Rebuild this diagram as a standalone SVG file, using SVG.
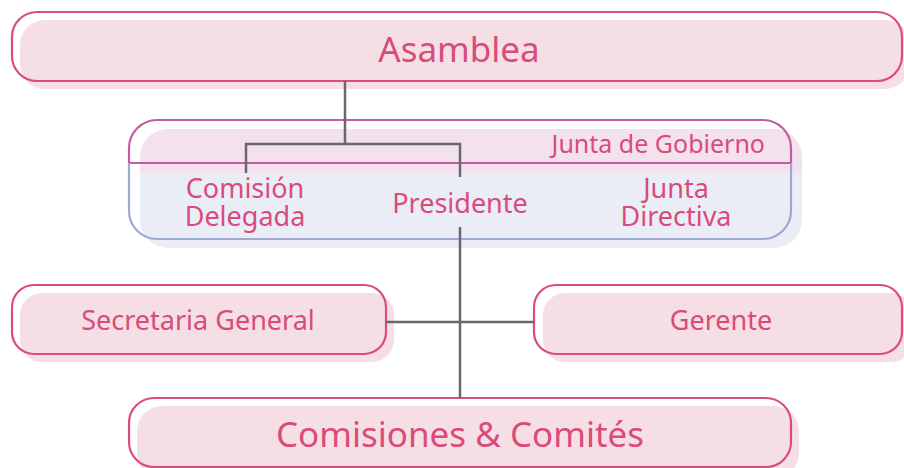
<svg xmlns="http://www.w3.org/2000/svg" width="904" height="468" viewBox="0 0 904 468">
<style>
.out{fill:none;stroke:#db4c7c;stroke-width:2.2}
.bg{fill:#f5dfe4}
.t{font-family:"Noto Sans","Open Sans",sans-serif;fill:#d94b7a;text-anchor:middle}
.big{font-size:35px}
.mid{font-size:27px}
.con{fill:none;stroke:#696969;stroke-width:2.5}
</style>
<rect width="904" height="468" fill="#ffffff"/>
<g id="asamblea">
<rect class="bg" x="20" y="20" width="890" height="69" rx="25"/>
<rect class="out" x="12" y="12" width="890" height="69" rx="25"/>
<text class="t big" x="459" y="62">Asamblea</text>
</g>
<g id="junta-de-gobierno">
<rect x="140" y="129" width="662" height="119" rx="28" fill="#eaedf5"/>
<path d="M140,173 V157 A28,28 0 0 1 168,129 H774 A28,28 0 0 1 802,157 V173 Z" fill="#f3e2ed"/>
<path d="M129,163 V148 A28,28 0 0 1 157,120 H763 A28,28 0 0 1 791,148 V163 Z" fill="none" stroke="#c45b9c" stroke-width="2.2"/>
<path d="M129,163 V211 A28,28 0 0 0 157,239 H763 A28,28 0 0 0 791,211 V163" fill="none" stroke="#9ba9d3" stroke-width="2.2"/>
<text class="t" x="765" y="153" style="font-size:25px;text-anchor:end">Junta de Gobierno</text>
<g id="comision-delegada">
<text class="t mid" x="245" y="198"><tspan x="245" y="198">Comisión</tspan><tspan x="245" y="226">Delegada</tspan></text>
</g>
<g id="presidente">
<text class="t mid" x="460" y="213">Presidente</text>
</g>
<g id="junta-directiva">
<text class="t mid" x="676" y="198"><tspan x="676" y="198">Junta</tspan><tspan x="676" y="226">Directiva</tspan></text>
</g>
</g>
<g id="secretaria-general">
<rect class="bg" x="20" y="293" width="374" height="69" rx="22"/>
<rect class="out" x="12" y="285" width="374" height="69" rx="22"/>
<text class="t mid" x="198" y="330">Secretaria General</text>
</g>
<g id="gerente">
<rect class="bg" x="543" y="293" width="370" height="69" rx="22"/>
<rect class="out" x="534" y="285" width="368" height="69" rx="22"/>
<text class="t mid" x="721" y="330">Gerente</text>
</g>
<g id="comisiones-comites">
<rect class="bg" x="137" y="406" width="662" height="72" rx="25"/>
<rect class="out" x="129" y="398" width="662" height="69" rx="25"/>
<text class="t big" x="460" y="447">Comisiones &amp; Comités</text>
</g>
<g id="connectors">
<path class="con" d="M345,81 V144 M246,173 V144 H460 V177 M460,227 V398 M386,322 H534"/>
</g>
</svg>
